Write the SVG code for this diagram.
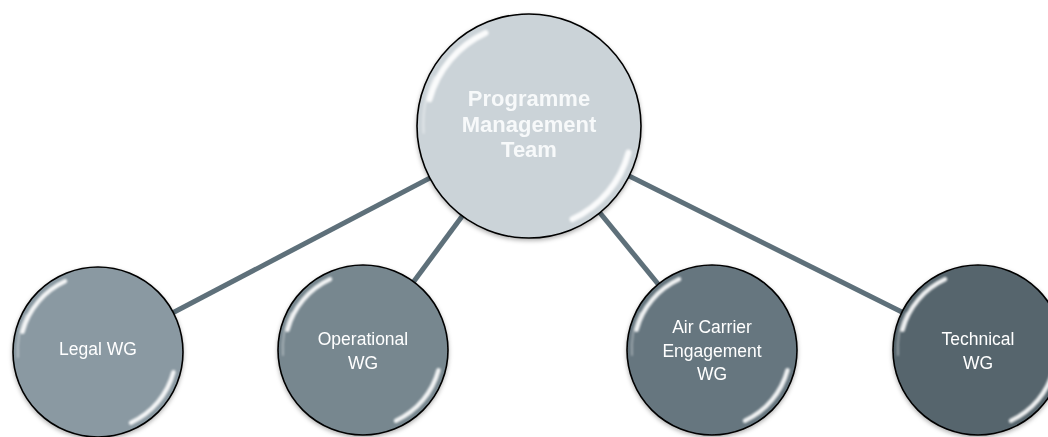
<svg xmlns="http://www.w3.org/2000/svg" xmlns:xlink="http://www.w3.org/1999/xlink" width="1048" height="437" viewBox="0 0 1048 437">
<style>
.conn{stroke:#5E707A;stroke-width:5;fill:none}
.node{stroke:#000;stroke-width:1.6}
.big{font-family:"Liberation Sans",Arial,sans-serif;font-weight:bold;font-size:22px;fill:#F7F9FA;text-anchor:middle}
.sm{font-family:"Liberation Sans",Arial,sans-serif;font-size:17.5px;fill:#FFFFFF;text-anchor:middle}
.hl{stroke:#FFFFFF;fill:none;stroke-linecap:round}
</style>
<defs>
<filter id="sh" x="-20%" y="-20%" width="140%" height="140%">
<feDropShadow dx="0" dy="2" stdDeviation="2" flood-color="#000" flood-opacity="0.3"/>
</filter>
<filter id="bl" x="-20%" y="-20%" width="140%" height="140%">
<feGaussianBlur stdDeviation="0.8"/>
</filter>
<g id="gloss" filter="url(#bl)">
<path class="hl" d="M -75.5 -20.2 A 78 78 0 0 1 -33 -70.7" stroke-width="4.5" opacity="0.9"/>
<path class="hl" d="M 75.5 20.2 A 78 78 0 0 1 33 70.7" stroke-width="4.5" opacity="0.9"/>
<path class="hl" d="M -80 5 A 81 81 0 0 1 -72 -37" stroke-width="2" opacity="0.35"/>
</g>
</defs>
<g id="connectors">
<line class="conn" x1="529" y1="126" x2="98" y2="352"/>
<line class="conn" x1="529" y1="126" x2="363" y2="350"/>
<line class="conn" x1="529" y1="126" x2="712" y2="350"/>
<line class="conn" x1="529" y1="126" x2="978" y2="350"/>
</g>
<g id="pmt">
<circle class="node" cx="529" cy="126" r="112" fill="#CBD3D8" filter="url(#sh)"/>
<use xlink:href="#gloss" transform="translate(529,126) scale(1.3176)"/>
<text class="big" x="529" y="106">Programme</text>
<text class="big" x="529" y="131.5">Management</text>
<text class="big" x="529" y="157">Team</text>
</g>
<g id="legal">
<circle class="node" cx="98" cy="352" r="85" fill="#8A99A2" filter="url(#sh)"/>
<use xlink:href="#gloss" transform="translate(98,352)"/>
<text class="sm" x="98" y="355">Legal WG</text>
</g>
<g id="operational">
<circle class="node" cx="363" cy="350" r="85" fill="#77878F" filter="url(#sh)"/>
<use xlink:href="#gloss" transform="translate(363,350)"/>
<text class="sm" x="363" y="345">Operational</text>
<text class="sm" x="363" y="369">WG</text>
</g>
<g id="aircarrier">
<circle class="node" cx="712" cy="350" r="85" fill="#66767F" filter="url(#sh)"/>
<use xlink:href="#gloss" transform="translate(712,350)"/>
<text class="sm" x="712" y="333">Air Carrier</text>
<text class="sm" x="712" y="357">Engagement</text>
<text class="sm" x="712" y="380">WG</text>
</g>
<g id="technical">
<circle class="node" cx="978" cy="350" r="85" fill="#56656D" filter="url(#sh)"/>
<use xlink:href="#gloss" transform="translate(978,350)"/>
<text class="sm" x="978" y="345">Technical</text>
<text class="sm" x="978" y="369">WG</text>
</g>
</svg>
